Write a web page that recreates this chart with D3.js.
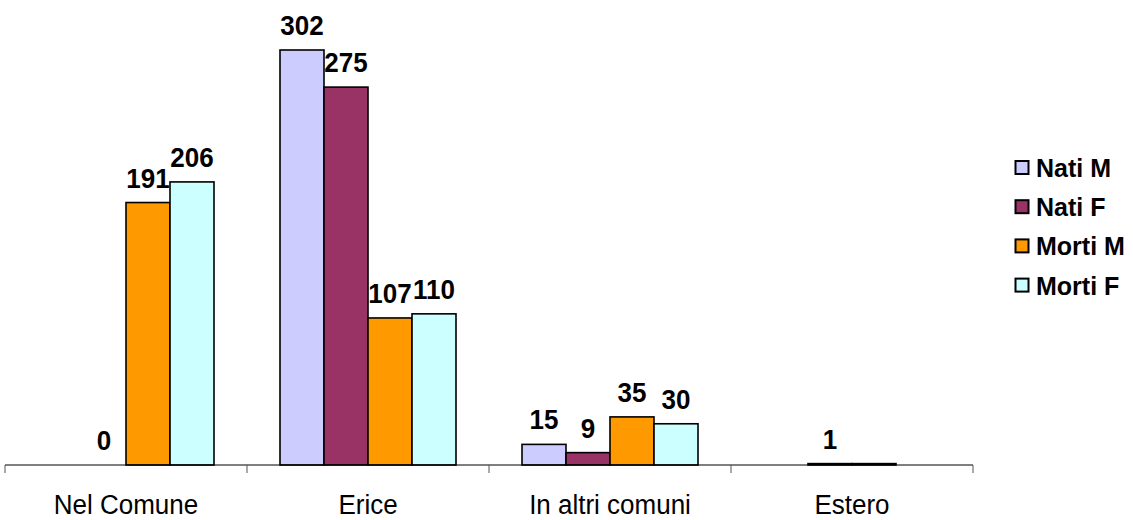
<!DOCTYPE html>
<html>
<head>
<meta charset="utf-8">
<script src="https://cdn.jsdelivr.net/npm/d3@7"></script>
<style>
  html, body { margin: 0; padding: 0; background: #fff; }
  svg { display: block; font-family: "Liberation Sans", Arial, sans-serif; }
</style>
</head>
<body>
<svg id="chart" width="1133" height="520"></svg>
<script>
const categories = ["Nel Comune", "Erice", "In altri comuni", "Estero"];
const seriesNames = ["Nati M", "Nati F", "Morti M", "Morti F"];
const natiM  = [null, 302, 15, null];
const natiF  = [0, 275, 9, 1];
const mortiM = [191, 107, 35, 1];
const mortiF = [206, 110, 30, null];
// data labels as shown in the picture (null = no label)
const labelsNatiM  = [null, "302", "15", null];
const labelsNatiF  = ["0", "275", "9", "1"];
const labelsMortiM = ["191", "107", "35", null];
const labelsMortiF = ["206", "110", "30", null];
const colors = ["#CCCCFF", "#993366", "#FF9900", "#CCFFFF"];

const seriesValues = [natiM, natiF, mortiM, mortiF];
const seriesLabels = [labelsNatiM, labelsNatiF, labelsMortiM, labelsMortiF];

const svg = d3.select("#chart");
const left = 5, right = 973, baseY = 465, topY = 50;

const x = d3.scaleBand().domain(categories).range([left, right]).paddingInner(0).paddingOuter(0);
const bw = x.bandwidth();
// gap width 150%: group = 4 bars, gap = 1.5 bars
const barW = bw / 5.5;
const xs = d3.scaleBand().domain(seriesNames).range([barW * 0.75, bw - barW * 0.75]).padding(0);
const y = d3.scaleLinear().domain([0, 302]).range([baseY, topY]);

// bars
const cells = [];
seriesNames.forEach((s, si) => {
  categories.forEach((c, ci) => {
    const v = seriesValues[si][ci];
    if (v !== null) cells.push({ s, si, c, v, label: seriesLabels[si][ci] });
  });
});

svg.append("g").selectAll("rect").data(cells).join("rect")
  .attr("x", d => x(d.c) + xs(d.s))
  .attr("y", d => y(d.v))
  .attr("width", xs.bandwidth())
  .attr("height", d => Math.max(0, baseY - y(d.v)))
  .attr("fill", d => colors[d.si])
  .attr("stroke", "#000")
  .attr("stroke-width", 1.6);

// axis
const axisG = svg.append("g").attr("transform", `translate(0,${baseY})`);
axisG.append("line").attr("x1", left).attr("x2", right).attr("y1", 0).attr("y2", 0)
  .attr("stroke", "#000").attr("stroke-width", 1.2);
const bounds = categories.map(c => x(c)).concat([right]);
axisG.selectAll("line.tick").data(bounds).join("line").attr("class", "tick")
  .attr("x1", d => d).attr("x2", d => d).attr("y1", 0).attr("y2", 8)
  .attr("stroke", "#555").attr("stroke-width", 1);
axisG.selectAll("text").data(categories).join("text")
  .attr("transform", d => `translate(${x(d) + bw / 2},49) scale(1,1.07)`)
  .attr("text-anchor", "middle")
  .attr("font-size", 26)
  .attr("fill", "#000")
  .text(d => d);

// data labels
svg.append("g").selectAll("text").data(cells.filter(d => d.label !== null)).join("text")
  .attr("transform", d => `translate(${x(d.c) + xs(d.s) + xs.bandwidth() / 2},${y(d.v) - 15}) scale(1,1.07)`)
  .attr("text-anchor", "middle")
  .attr("font-size", 26)
  .attr("font-weight", "bold")
  .attr("fill", "#000")
  .text(d => d.label);

// legend
const legend = svg.append("g").attr("transform", "translate(1015,168)");
const li = legend.selectAll("g").data(seriesNames).join("g")
  .attr("transform", (d, i) => `translate(0,${i * 39.2})`);
li.append("rect").attr("x", 0.5).attr("y", -7).attr("width", 13).attr("height", 13)
  .attr("fill", (d, i) => colors[i]).attr("stroke", "#000").attr("stroke-width", 2);
li.append("text").attr("transform", "translate(21,9) scale(1,1.05)").attr("font-size", 25).attr("font-weight", "bold")
  .attr("fill", "#000").text(d => d);
</script>
</body>
</html>
